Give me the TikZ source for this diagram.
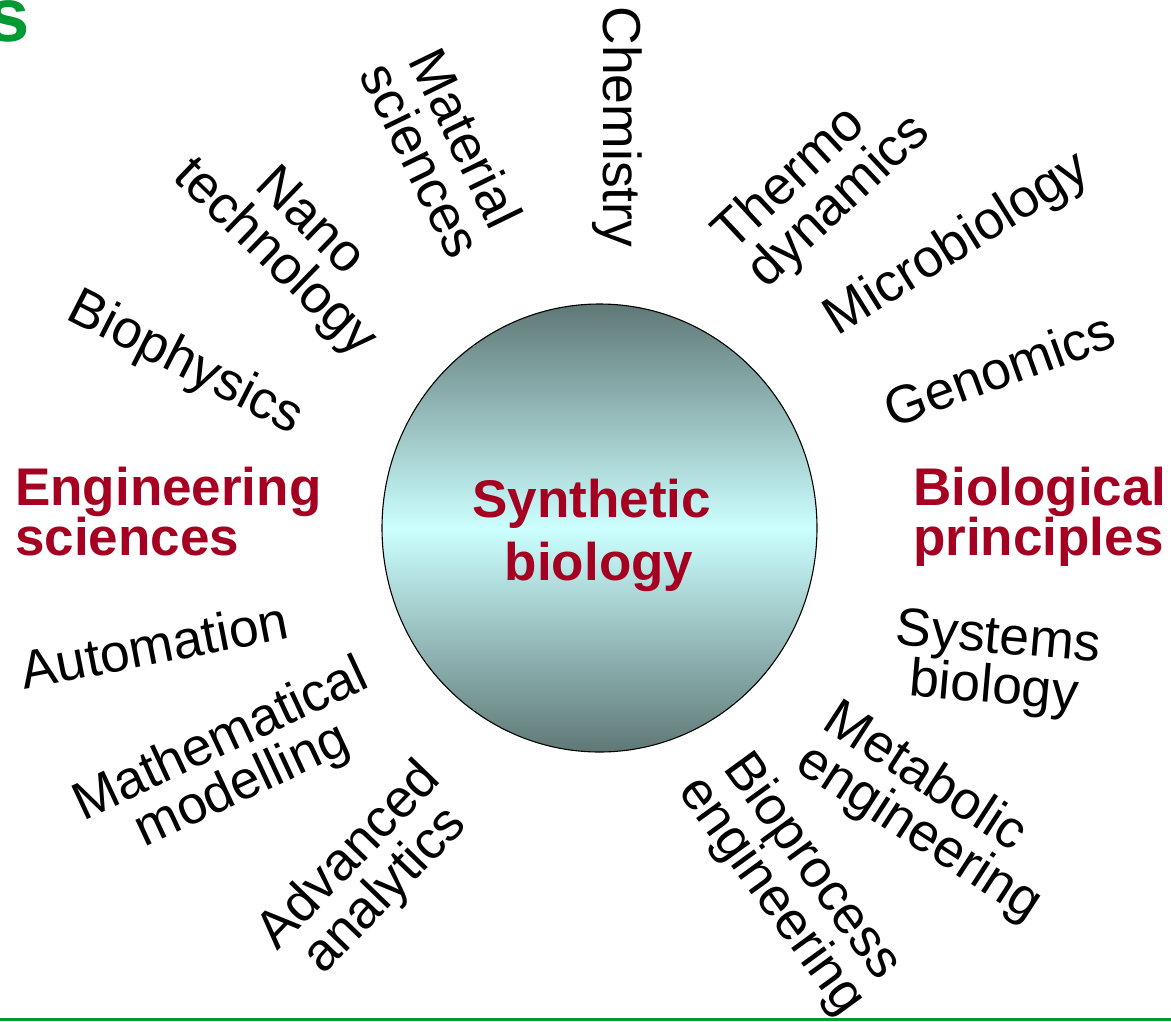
\documentclass[tikz,border=0pt]{standalone}
\usepackage{fontspec}
\setmainfont{Liberation Sans}
\usetikzlibrary{shapes.geometric}
\definecolor{labred}{RGB}{165,0,33}
\definecolor{titlegreen}{RGB}{0,153,51}
\definecolor{balldark}{RGB}{95,120,118}
\definecolor{balllight}{RGB}{204,255,255}
\begin{document}
\begin{tikzpicture}[x=1pt,y=-1pt,
  lab/.style={font=\fontsize{53.5}{50}\selectfont, inner sep=0pt, align=center},
  labl/.style={lab, align=left},
  head/.style={font=\bfseries\fontsize{53}{50}\selectfont, text=labred, inner sep=0pt, align=left},
  core/.style={ellipse, draw=black, line width=1.1pt, minimum width=435pt, minimum height=448pt,
    inner sep=0pt, top color=balldark, bottom color=balldark, middle color=balllight},
  centre/.style={font=\bfseries\fontsize{53}{63}\selectfont, text=labred, inner sep=0pt, align=center},
  rule/.style={draw=titlegreen, line width=3pt}]
\clip (0,0) rectangle (1171,1021);
\fill[white] (0,0) rectangle (1171,1021);
% title fragment and bottom rule
\node[font=\bfseries\fontsize{76}{76}\selectfont, text=titlegreen, inner sep=0pt, anchor=base east] (title) at (30,41) {s};
\coordinate (ruleL) at (0,1019.5);
\coordinate (ruleR) at (1171,1019.5);
\draw[rule] (ruleL) -- (ruleR);
% central ball
\node[core] (ball) at (599.5,528) {};
\node[centre] (synbio) at (599,535) {Synthetic\kern0.28em\\biology};
% headings
\node[head, anchor=north west] (eng) at (15,467) {Engineering\\sciences};
\node[head, anchor=north west] (bio) at (913,467) {Biological\\principles};
% engineering side
\node[lab, rotate=-90] (chem) at (617,127) {Chemistry};
\node[lab, rotate=-64] (mat) at (444,149) {Material\\sciences};
\node[lab, rotate=-44] (nano) at (291,241) {Nano\\technology};
\node[lab, rotate=-27] (bphys) at (185,364) {Biophysics};
\node[lab, rotate=11] (auto) at (154,645) {Automation};
\node[lab, rotate=25] (math) at (232,764) {Mathematical\\modelling};
\node[lab, rotate=46] (adv) at (368,874) {Advanced\\analytics};
% biology side
\node[labl, rotate=43] (thermo) at (823,184) {Thermo\\dynamics};
\node[lab, rotate=32] (micro) at (958,245) {Microbiology};
\node[lab, rotate=20] (geno) at (999,369) {Genomics};
\node[lab, rotate=-5] (sysbio) at (996,665) {Systems\\biology};
\node[labl, rotate=-33] (metab) at (932,813) {Metabolic\\engineering};
\node[lab, rotate=-54] (bioproc) at (791,882) {Bioprocess\\engineering};
\end{tikzpicture}
\end{document}
